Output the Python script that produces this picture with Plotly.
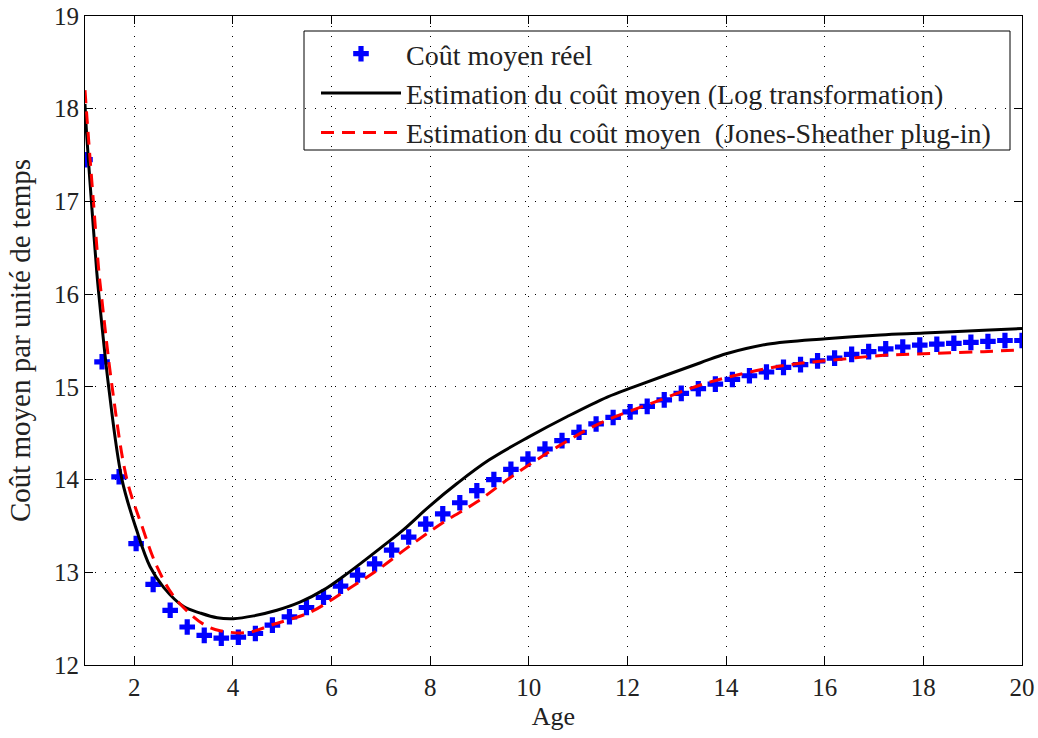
import numpy as np
import plotly.graph_objects as go

# --- data ---
age_obs = np.linspace(1, 20, 56)
cout_reel = [17.45, 15.27, 14.03, 13.31, 12.87, 12.59, 12.41, 12.32, 12.29, 12.30,
             12.34, 12.43, 12.52, 12.62, 12.73, 12.85, 12.97, 13.09, 13.24, 13.38,
             13.52, 13.63, 13.75, 13.88, 14.00, 14.11, 14.22, 14.33, 14.42, 14.51,
             14.60, 14.67, 14.73, 14.79, 14.86, 14.93, 14.98, 15.03, 15.08, 15.12,
             15.16, 15.21, 15.24, 15.28, 15.31, 15.35, 15.38, 15.41, 15.43, 15.45,
             15.46, 15.47, 15.48, 15.49, 15.50, 15.50]

age_log = [1.0, 1.03, 1.13, 1.24, 1.28, 1.48, 1.75, 2.05, 2.32, 2.59, 3.0, 3.34, 3.68,
           4.01, 4.42, 4.89, 5.37, 5.84, 6.25, 6.65, 7.06, 7.46, 8.0, 8.55, 9.19, 10.0,
           10.78, 11.59, 12.13, 13.48, 14.02, 14.83, 16.02, 17.13, 18.01, 19.23, 20.0]
est_log = [18.05, 17.75, 17.0, 16.23, 16.0, 15.0, 14.0, 13.45, 13.06, 12.84, 12.63,
           12.56, 12.51, 12.50, 12.53, 12.59, 12.68, 12.81, 12.96, 13.12, 13.29, 13.46,
           13.72, 13.96, 14.21, 14.46, 14.68, 14.89, 15.0, 15.26, 15.36, 15.46, 15.52,
           15.56, 15.58, 15.61, 15.63]

age_js = [1.0, 1.04, 1.17, 1.28, 1.33, 1.55, 1.85, 2.16, 2.46, 2.80, 3.20, 3.47, 3.74,
          4.29, 4.83, 5.57, 6.25, 6.92, 7.60, 8.27, 8.95, 9.62, 10.57, 11.45, 12.47,
          13.48, 14.16, 15.17, 16.18, 17.2, 18.21, 19.22, 20.0]
est_js = [18.2, 17.9, 17.0, 16.25, 16.0, 15.0, 14.0, 13.49, 13.06, 12.74, 12.52, 12.42,
          12.37, 12.35, 12.44, 12.57, 12.79, 13.02, 13.29, 13.54, 13.76, 14.02, 14.35,
          14.61, 14.82, 15.02, 15.12, 15.23, 15.29, 15.34, 15.36, 15.38, 15.40]

x_ticks = list(range(2, 21, 2))
y_ticks = list(range(12, 20))

FONT = "Liberation Serif"
TXT = "#222"
FS = 25

W, H = 1038, 738
ML, MR, MT, MB = 85, 16, 16, 73
PW = W - ML - MR
PH = H - MT - MB


def px_x(p):
    return (p - ML) / PW


def px_y(p):
    return 1 - (p - MT) / PH


fig = go.Figure()
fig.add_trace(go.Scatter(
    x=age_obs, y=cout_reel, mode="markers", name="Coût moyen réel",
    marker=dict(symbol="cross", size=13, color="#0000ff", line=dict(width=0)),
    legendgroup="a"))
fig.add_trace(go.Scatter(
    x=age_log, y=est_log, mode="lines", line_shape="spline",
    name="Estimation du coût moyen (Log transformation)",
    line=dict(color="black", width=3), legendgroup="b"))
fig.add_trace(go.Scatter(
    x=age_js, y=est_js, mode="lines", line_shape="spline",
    name="Estimation du coût moyen  (Jones-Sheather plug-in)",
    line=dict(color="#ff0000", width=3, dash="13px,8px"), legendgroup="c"))

axis_common = dict(
    showline=True, linecolor="black", linewidth=1, mirror="allticks",
    ticks="inside", ticklen=8, tickcolor="black", tickwidth=1,
    showgrid=True, gridcolor="black", gridwidth=1, griddash="1px,9px",
    zeroline=False, automargin=False,
    tickfont=dict(family=FONT, size=FS, color=TXT),
)

fig.update_xaxes(range=[1, 20], tickvals=x_ticks,
                 title=dict(text="Age", font=dict(family=FONT, size=26, color=TXT), standoff=6),
                 **axis_common)
fig.update_yaxes(range=[12, 19], tickvals=y_ticks,
                 title=dict(text="Coût moyen par unité de temps",
                            font=dict(family=FONT, size=29, color=TXT), standoff=14),
                 **axis_common)

# legend box
fig.add_shape(type="rect", xref="paper", yref="paper", layer="between",
              x0=px_x(304), x1=px_x(1010), y0=px_y(150), y1=px_y(31),
              line=dict(color="black", width=1), fillcolor="white")

fig.update_layout(
    width=W, height=H,
    margin=dict(l=ML, r=MR, t=MT, b=MB),
    paper_bgcolor="white", plot_bgcolor="white",
    font=dict(family=FONT, size=FS, color=TXT),
    showlegend=True,
    legend=dict(x=px_x(316), y=px_y(29), xanchor="left", yanchor="top",
                bgcolor="rgba(0,0,0,0)", borderwidth=0, itemwidth=80,
                tracegroupgap=0, font=dict(family=FONT, size=28, color=TXT)),
)

fig.write_html("out.html", config={"displayModeBar": False},
               post_script="document.body.style.margin='0';document.body.style.overflow='hidden';")
